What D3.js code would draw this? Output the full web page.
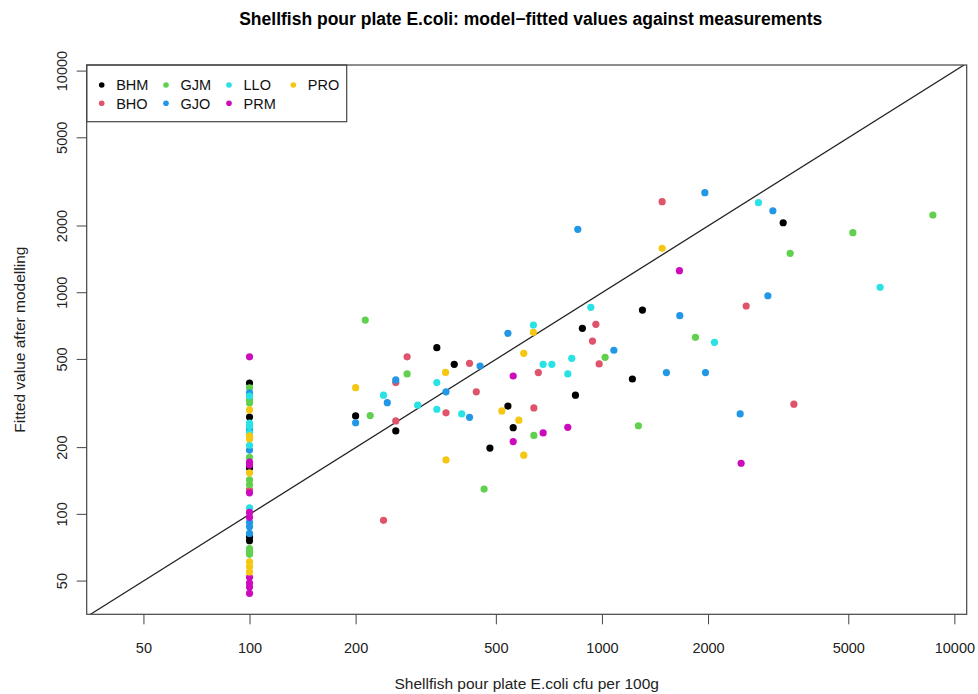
<!DOCTYPE html>
<html>
<head>
<meta charset="utf-8">
<script src="https://cdn.jsdelivr.net/npm/d3@7"></script>
<style>
  body { margin: 0; background: #fff; }
  text { font-family: "Liberation Sans", Arial, sans-serif; }
</style>
</head>
<body>
<svg id="chart"></svg>
<script>
// measured (x) vs fitted (y) values, one array per site
var BHM = [[340,565],[381,475],[200,278],[260,238],[880,691],[1303,835],[3268,2069],[1220,408],
           [841,345],[541,308],[560,246],[481,199],
           [100,391],[100,275],[100,162],[100,79],[100,76]];
var BHO = [[280,514],[421,480],[260,393],[440,357],[361,287],[260,264],[240,94],[961,720],
           [940,605],[982,477],[660,436],[641,302],[1482,2575],[2566,871],[3505,314],
           [100,129]];
var GJM = [[213,753],[280,430],[220,279],[1021,511],[641,227],[463,130],[1269,251],[1842,629],
           [3420,1506],[5152,1866],[8690,2242],
           [100,372],[100,328],[100,318],[100,181],[100,143],[100,136],[100,70],[100,68],[100,66]];
var GJO = [[260,404],[246,319],[200,259],[421,274],[451,467],[541,656],[1081,550],[854,1932],
           [1959,2827],[3055,2344],[2957,969],[1663,788],[1524,436],[1967,436],[2467,284],[361,357],
           [100,353],[100,240],[100,195],[100,92],[100,88],[100,82]];
var LLO = [[340,393],[240,345],[300,311],[340,298],[400,284],[639,715],[681,475],[721,475],
           [821,506],[800,430],[930,859],[2780,2548],[2086,597],[6157,1058],
           [100,342],[100,258],[100,250],[100,233],[100,205],[100,107]];
var PRM = [[560,421],[681,233],[800,247],[560,213],[1659,1257],[2483,170],
           [100,514],[100,172],[100,167],[100,125],[100,102],[100,97],[100,52],[100,49],[100,47],[100,44]];
var PRO = [[200,373],[360,437],[361,176],[600,533],[639,663],[520,293],[581,266],[600,185],[1482,1586],
           [100,296],[100,226],[100,219],[100,154],[100,61],[100,58],[100,55]];

var groups = ["BHM","BHO","GJM","GJO","LLO","PRM","PRO"];
var groupData = [BHM, BHO, GJM, GJO, LLO, PRM, PRO];
var colors = ["#000000","#DF536B","#61D04F","#2297E6","#28E2E5","#CD0BBC","#F5C710"];
var tickValues = [50,100,200,500,1000,2000,5000,10000];

var width = 978, height = 694;
var svg = d3.select("#chart").attr("width", width).attr("height", height);

var mLeft = 86.7, mRight = 966.7, mTop = 65, mBottom = 614.3;

var x = d3.scaleLog().domain([Math.pow(10,1.538), Math.pow(10,4.035)]).range([mLeft, mRight]);
var y = d3.scaleLog().domain([Math.pow(10,1.549), Math.pow(10,4.0275)]).range([mBottom, mTop]);

svg.append("clipPath").attr("id","clip")
  .append("rect").attr("x", mLeft).attr("y", mTop).attr("width", mRight-mLeft).attr("height", mBottom-mTop);

// axes
var xAxis = d3.axisBottom(x).tickValues(tickValues).tickFormat(d3.format("d")).tickSize(10).tickPadding(18);
var gx = svg.append("g").attr("transform", "translate(0," + mBottom + ")").call(xAxis);
gx.select(".domain").remove();
gx.selectAll("line").attr("stroke", "#444");
gx.selectAll("text").attr("font-size", 14.5).attr("fill", "#222").attr("font-family", "Liberation Sans, Arial, sans-serif");

var gy = svg.append("g").attr("transform", "translate(" + mLeft + ",0)");
gy.selectAll("line").data(tickValues).enter().append("line")
  .attr("x1", -10).attr("x2", 0)
  .attr("y1", d => y(d)).attr("y2", d => y(d))
  .attr("stroke", "#444");
gy.selectAll("text").data(tickValues).enter().append("text")
  .attr("transform", d => "translate(-20," + y(d) + ") rotate(-90)")
  .attr("text-anchor", "middle")
  .attr("font-size", 14.5).attr("fill", "#222")
  .text(d => d);

// y = x reference line
var lo = Math.max(x.domain()[0], y.domain()[0]);
var hi = Math.min(x.domain()[1], y.domain()[1]);
svg.append("line").attr("clip-path", "url(#clip)")
  .attr("x1", x(lo)).attr("y1", y(lo)).attr("x2", x(hi)).attr("y2", y(hi))
  .attr("stroke", "#222").attr("stroke-width", 1.3);

// points
groupData.forEach(function(arr, i){
  svg.append("g").selectAll("circle").data(arr).enter().append("circle")
    .attr("cx", d => x(d[0]))
    .attr("cy", d => y(d[1]))
    .attr("r", 3.6)
    .attr("fill", colors[i]);
});

// legend
var legW = 260, legH = 56.7;
svg.append("rect").attr("x", mLeft).attr("y", mTop).attr("width", legW).attr("height", legH)
  .attr("fill", "#fff").attr("stroke", "#444").attr("stroke-width", 1.2);
var colX = [101.7, 166, 229, 293.3];
var rowY = [85, 103.3];
groups.forEach(function(g, i){
  var c = Math.floor(i / 2), r = i % 2;
  svg.append("circle").attr("cx", colX[c]).attr("cy", rowY[r]).attr("r", 2.8).attr("fill", colors[i]);
  svg.append("text").attr("x", colX[c] + 14.5).attr("y", rowY[r] + 5.2)
    .attr("font-size", 14.5).attr("fill", "#111").text(g);
});

// plot box
svg.append("rect").attr("x", mLeft).attr("y", mTop).attr("width", mRight-mLeft).attr("height", mBottom-mTop)
  .attr("fill", "none").attr("stroke", "#444").attr("stroke-width", 1.2);

// titles
svg.append("text").attr("x", (mLeft+mRight)/2 + 4).attr("y", 25)
  .attr("text-anchor", "middle").attr("font-size", 17.5).attr("font-weight", "bold")
  .text("Shellfish pour plate E.coli: model\u2212fitted values against measurements");
svg.append("text").attr("x", (mLeft+mRight)/2).attr("y", 689)
  .attr("text-anchor", "middle").attr("font-size", 15.5).attr("fill", "#222")
  .text("Shellfish pour plate E.coli cfu per 100g");
svg.append("text").attr("transform", "translate(25," + (mTop+mBottom)/2 + ") rotate(-90)")
  .attr("text-anchor", "middle").attr("font-size", 15.5).attr("fill", "#222")
  .text("Fitted value after modelling");
</script>
</body>
</html>
